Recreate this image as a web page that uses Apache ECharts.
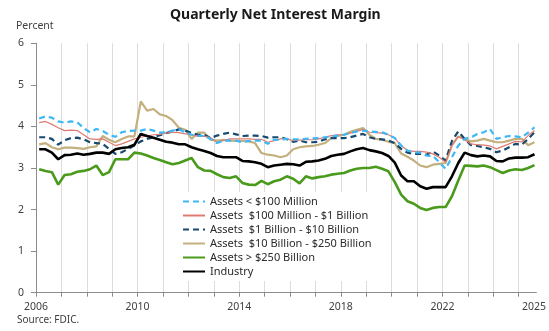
<!DOCTYPE html>
<html><head><meta charset="utf-8">
<script src="https://cdn.jsdelivr.net/npm/echarts@6/dist/echarts.min.js"></script>
<style>html,body{margin:0;padding:0;background:#fff}#c{width:549px;height:331px}</style>
</head><body><div id="c"></div>
<script>
// Quarterly data 2006Q1 .. 2025Q3
const startYear = 2006;
const seriesNames = ["Assets < $100 Million", "Assets  $100 Million - $1 Billion", "Assets  $1 Billion - $10 Billion", "Assets  $10 Billion - $250 Billion", "Assets > $250 Billion", "Industry"];
const under100M = [4.19,4.24,4.21,4.12,4.09,4.12,4.10,3.96,3.86,3.94,3.89,3.80,3.75,3.86,3.89,3.90,3.90,3.94,3.90,3.85,3.86,3.90,3.93,3.86,3.80,3.78,3.77,3.70,3.60,3.66,3.66,3.66,3.62,3.65,3.66,3.66,3.58,3.68,3.68,3.70,3.69,3.69,3.70,3.71,3.72,3.74,3.76,3.78,3.80,3.84,3.88,3.90,3.88,3.87,3.86,3.80,3.72,3.54,3.42,3.38,3.37,3.30,3.29,3.14,2.98,3.26,3.54,3.70,3.74,3.82,3.86,3.94,3.70,3.74,3.77,3.76,3.74,3.85,3.98];
const m100to1B = [4.09,4.12,4.05,3.97,3.90,3.91,3.90,3.80,3.70,3.69,3.70,3.62,3.54,3.58,3.64,3.70,3.74,3.77,3.80,3.81,3.84,3.86,3.85,3.82,3.80,3.76,3.76,3.73,3.62,3.66,3.70,3.70,3.70,3.70,3.69,3.69,3.62,3.66,3.70,3.70,3.66,3.67,3.68,3.68,3.70,3.74,3.78,3.80,3.80,3.84,3.88,3.93,3.86,3.85,3.84,3.80,3.72,3.54,3.42,3.40,3.40,3.38,3.34,3.26,3.14,3.54,3.76,3.68,3.58,3.56,3.55,3.53,3.46,3.52,3.58,3.64,3.63,3.78,3.90];
const b1to10B = [3.74,3.74,3.70,3.56,3.67,3.72,3.73,3.69,3.62,3.60,3.58,3.46,3.34,3.38,3.46,3.54,3.64,3.70,3.74,3.79,3.84,3.88,3.93,3.90,3.84,3.80,3.80,3.72,3.78,3.82,3.85,3.81,3.77,3.78,3.78,3.77,3.73,3.74,3.74,3.69,3.63,3.66,3.62,3.62,3.63,3.69,3.72,3.72,3.72,3.74,3.78,3.82,3.74,3.70,3.69,3.66,3.60,3.46,3.37,3.34,3.34,3.32,3.40,3.30,3.18,3.65,3.88,3.70,3.55,3.53,3.50,3.46,3.38,3.42,3.50,3.58,3.56,3.70,3.86];
const b10to250B = [3.57,3.60,3.50,3.45,3.49,3.49,3.48,3.46,3.50,3.52,3.77,3.68,3.62,3.70,3.76,3.76,4.60,4.38,4.42,4.29,4.25,4.15,3.97,3.92,3.70,3.85,3.85,3.68,3.66,3.68,3.66,3.65,3.65,3.64,3.60,3.36,3.32,3.30,3.26,3.30,3.45,3.50,3.52,3.53,3.56,3.60,3.72,3.77,3.80,3.87,3.92,3.96,3.80,3.70,3.68,3.63,3.60,3.35,3.27,3.18,3.06,3.02,3.08,3.10,3.12,3.55,3.76,3.70,3.64,3.66,3.70,3.66,3.62,3.62,3.66,3.70,3.70,3.55,3.62];
const over250B = [2.97,2.93,2.90,2.60,2.83,2.85,2.91,2.93,2.97,3.06,2.83,2.90,3.21,3.21,3.21,3.37,3.35,3.30,3.24,3.19,3.14,3.09,3.12,3.18,3.24,3.02,2.94,2.93,2.85,2.78,2.76,2.80,2.64,2.60,2.59,2.69,2.61,2.68,2.72,2.80,2.74,2.63,2.80,2.75,2.78,2.80,2.84,2.86,2.88,2.94,2.98,3.00,3.00,3.03,2.98,2.92,2.66,2.36,2.20,2.14,2.04,1.99,2.04,2.06,2.06,2.32,2.70,3.06,3.05,3.04,3.06,3.02,2.95,2.88,2.94,2.97,2.95,3.00,3.07];
const industry = [3.45,3.45,3.37,3.21,3.31,3.32,3.35,3.32,3.34,3.37,3.37,3.34,3.45,3.48,3.50,3.56,3.82,3.77,3.73,3.68,3.63,3.61,3.57,3.57,3.50,3.45,3.41,3.36,3.29,3.26,3.26,3.26,3.17,3.16,3.14,3.10,3.02,3.06,3.08,3.10,3.09,3.06,3.15,3.16,3.18,3.22,3.29,3.32,3.34,3.40,3.45,3.48,3.43,3.40,3.36,3.29,3.13,2.82,2.68,2.68,2.56,2.50,2.54,2.54,2.54,2.80,3.12,3.37,3.31,3.28,3.30,3.28,3.17,3.16,3.23,3.25,3.25,3.26,3.33];
const xLabelYears = [2006, 2010, 2014, 2018, 2022, 2025];
const yTicks = [0, 1, 2, 3, 4, 5, 6];

const colors = ["#3DB8F5", "#E07A72", "#17496E", "#C4B07E", "#4A9A1C", "#000000"];
const styles = [
  {width: 2.2, type: [6, 4]},
  {width: 1.2, type: 'solid'},
  {width: 2.2, type: [6, 4]},
  {width: 2.2, type: 'solid'},
  {width: 2.6, type: 'solid'},
  {width: 2.6, type: 'solid'}
];
const allValues = [under100M, m100to1B, b1to10B, b10to250B, over250B, industry];

function qx(i) { // mid-quarter position in years
  const y = startYear + Math.floor(i / 4);
  const q = i % 4;
  return y + (q + 0.5) / 4;
}
const lastX = qx(under100M.length - 1);
const labelValues = xLabelYears.map(y => y === 2025 ? lastX - 0.02 : y);
const tickYears = [];
for (let y = 2006; y <= 2025; y++) tickYears.push(y);

const chart = echarts.init(document.getElementById('c'), null, {renderer: 'canvas'});
const font = "'Noto Sans', 'Open Sans', sans-serif";
chart.setOption({
  animation: false,
  backgroundColor: '#fff',
  textStyle: {fontFamily: font},
  title: {
    text: 'Quarterly Net Interest Margin', left: 165, top: 3,
    textStyle: {fontSize: 14, fontWeight: 'bold', color: '#1a1a1a', fontFamily: font}
  },
  graphic: [
    {type: 'text', left: 16, top: 21, style: {text: 'Percent', fontSize: 10.5, fill: '#404040', fontFamily: font}},
    {type: 'text', left: 17, top: 315, style: {text: 'Source: FDIC.', fontSize: 10, fill: '#404040', fontFamily: font}}
  ],
  grid: {left: 36, right: 10, top: 43.3, bottom: 38.3, containLabel: false},
  legend: {
    orient: 'vertical', left: 176, top: 192,
    itemWidth: 22, itemHeight: 10, itemGap: 3.0,
    padding: [4, 12, 4, 6],
    backgroundColor: '#fff',
    itemStyle: {opacity: 0},
    textStyle: {fontSize: 11, color: '#2a2a2a', fontFamily: font},
    data: seriesNames
  },
  xAxis: {
    type: 'value', min: 2006, max: 2025.7, interval: 1,
    axisLine: {show: true, lineStyle: {color: '#8c8c8c', width: 1}},
    axisTick: {show: true, length: 4, lineStyle: {color: '#8c8c8c'}, customValues: tickYears},
    splitLine: {show: true, lineStyle: {color: '#dcdcdc', width: 1}},
    axisLabel: {customValues: labelValues, formatter: v => String(Math.floor(v + 0.05)), fontSize: 10.5, color: '#404040', margin: 9, fontFamily: font}
  },
  yAxis: {
    type: 'value', min: 0, max: 6, interval: 1,
    axisLine: {show: true, lineStyle: {color: '#8c8c8c', width: 1}},
    axisTick: {show: true, length: 5, lineStyle: {color: '#8c8c8c'}},
    splitLine: {show: false},
    axisLabel: {fontSize: 10.5, color: '#404040', margin: 12, fontFamily: font, formatter: v => yTicks.includes(v) ? String(v) : ''}
  },
  series: allValues.map((vals, k) => ({
    name: seriesNames[k], type: 'line', symbol: 'none', showSymbol: false,
    z: k === 5 ? 10 : (k === 4 ? 9 : 5 - k + 3),
    color: colors[k],
    lineStyle: {color: colors[k], width: styles[k].width, type: styles[k].type},
    data: vals.map((v, i) => [qx(i), v])
  }))
});
</script></body></html>
